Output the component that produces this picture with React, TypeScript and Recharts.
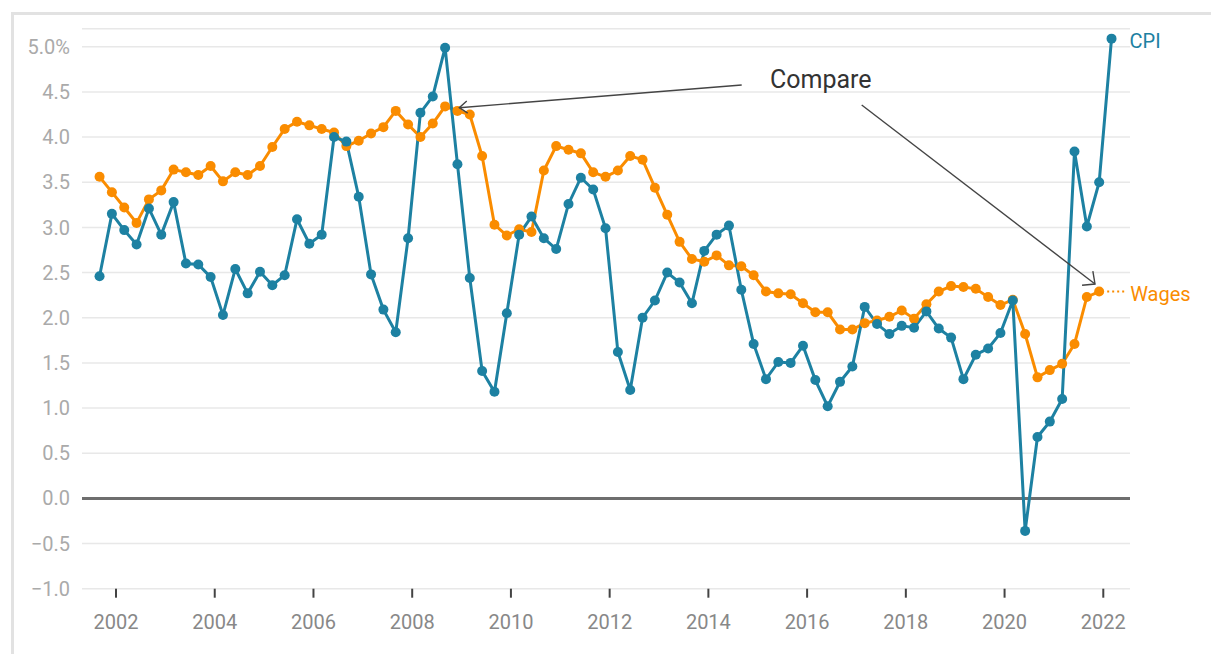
import React from "react";
import { LineChart, Line, XAxis, YAxis, CartesianGrid, ReferenceLine, LabelList } from "recharts";

// quarterly readings, first one is Sep 2001
const cpi = [
  2.46, 3.15, 2.97, 2.81, 3.21, 2.92, 3.28, 2.6, 2.59, 2.45,
  2.03, 2.54, 2.27, 2.51, 2.36, 2.47, 3.09, 2.82, 2.92, 4.0,
  3.95, 3.34, 2.48, 2.09, 1.84, 2.88, 4.27, 4.45, 4.99, 3.7,
  2.44, 1.41, 1.18, 2.05, 2.92, 3.12, 2.88, 2.76, 3.26, 3.55,
  3.42, 2.99, 1.62, 1.2, 2.0, 2.19, 2.5, 2.39, 2.16, 2.74,
  2.92, 3.02, 2.31, 1.71, 1.32, 1.51, 1.5, 1.69, 1.31, 1.02,
  1.29, 1.46, 2.12, 1.93, 1.82, 1.91, 1.89, 2.07, 1.88, 1.78,
  1.32, 1.59, 1.66, 1.83, 2.19, -0.36, 0.68, 0.85, 1.1, 3.84,
  3.01, 3.5, 5.09,
];

const wages = [
  3.56, 3.39, 3.22, 3.05, 3.31, 3.41, 3.64, 3.61, 3.58, 3.68,
  3.51, 3.61, 3.58, 3.68, 3.89, 4.09, 4.17, 4.13, 4.09, 4.05,
  3.9, 3.96, 4.04, 4.11, 4.29, 4.14, 4.0, 4.15, 4.34, 4.29,
  4.25, 3.79, 3.03, 2.91, 2.98, 2.95, 3.63, 3.9, 3.86, 3.82,
  3.61, 3.56, 3.63, 3.79, 3.75, 3.44, 3.14, 2.84, 2.65, 2.62,
  2.69, 2.58, 2.57, 2.47, 2.29, 2.27, 2.26, 2.16, 2.06, 2.06,
  1.87, 1.87, 1.94, 1.97, 2.01, 2.08, 1.99, 2.15, 2.29, 2.35,
  2.34, 2.32, 2.23, 2.14, 2.2, 1.82, 1.34, 1.42, 1.49, 1.71,
  2.23, 2.29,
];

const firstYear = 2001;
const firstMonth = 9;
const yearTicks = [2002, 2004, 2006, 2008, 2010, 2012, 2014, 2016, 2018, 2020, 2022];
const yTicks = [-1, -0.5, 0, 0.5, 1, 1.5, 2, 2.5, 3, 3.5, 4, 4.5, 5];

const BLUE = "#1d81a2";
const ORANGE = "#fa8c00";
const FONT = "Roboto, sans-serif";

const data = cpi.map((v, i) => ({
  t: firstYear + (firstMonth - 1) / 12 + i * 0.25,
  cpi: v,
  wages: i < wages.length ? wages[i] : null,
}));

const fmtY = (v: number) => {
  const s = Math.abs(v).toFixed(1);
  if (v === 5) return s + "%";
  return v < 0 ? "\u2212" + s : s;
};

function arrowHead(x1: number, y1: number, x2: number, y2: number, len: number, spread: number) {
  const a = Math.atan2(y1 - y2, x1 - x2);
  const p1 = [x2 + len * Math.cos(a + spread), y2 + len * Math.sin(a + spread)];
  const p2 = [x2 + len * Math.cos(a - spread), y2 + len * Math.sin(a - spread)];
  return `M${p1[0]},${p1[1]} L${x2},${y2} L${p2[0]},${p2[1]}`;
}

function Annotations() {
  const a1 = [741.7, 85, 459.3, 107.7];
  const a2 = [861.7, 105, 1095, 284];
  return (
    <svg width={1211} height={654} style={{ position: "absolute", left: 0, top: 0, pointerEvents: "none" }}>
      <text x={770} y={88} fontFamily={FONT} fontSize={25} fill="#333">Compare</text>
      <line x1={a1[0]} y1={a1[1]} x2={a1[2]} y2={a1[3]} stroke="#444" strokeWidth={1.4} />
      <path d={arrowHead(a1[0], a1[1], a1[2], a1[3], 10, 0.65)} fill="none" stroke="#444" strokeWidth={1.4} />
      <line x1={a2[0]} y1={a2[1]} x2={a2[2]} y2={a2[3]} stroke="#444" strokeWidth={1.4} />
      <path d={arrowHead(a2[0], a2[1], a2[2], a2[3], 13, 0.75)} fill="none" stroke="#444" strokeWidth={1.4} />
    </svg>
  );
}

export default function App() {
  return (
    <div style={{ position: "absolute", left: 0, top: 0, width: 1211, height: 654, overflow: "hidden", background: "#fff" }}>
      <div
        style={{
          position: "absolute",
          left: 11,
          top: 12,
          width: 1300,
          height: 700,
          borderTop: "3px solid #e2e2e2",
          borderLeft: "3px solid #e2e2e2",
        }}
      />
      <div style={{ position: "absolute", left: 0, top: 0 }}>
        <LineChart
          width={1211}
          height={654}
          data={data}
          margin={{ top: 28.7, right: 81, left: 12, bottom: 25.3 }}
        >
          <CartesianGrid vertical={false} stroke="#e8e8e8" strokeWidth={1.5} />
          <XAxis
            dataKey="t"
            type="number"
            domain={[2001.311, 2022.541]}
            ticks={yearTicks}
            height={40}
            axisLine={false}
            tickSize={9}
            tickMargin={17}
            tickLine={{ stroke: "#444", strokeWidth: 2 }}
            tick={{ fill: "#888", fontSize: 20, fontFamily: FONT }}
          />
          <YAxis
            type="number"
            domain={[-1, 5.2]}
            ticks={yTicks}
            width={70}
            axisLine={false}
            tickLine={false}
            tickSize={6}
            tickMargin={6}
            tickFormatter={fmtY}
            tick={{ fill: "#aaa", fontSize: 20, fontFamily: FONT }}
          />
          <ReferenceLine y={0} stroke="#6e6e6e" strokeWidth={3} />
          <Line
            dataKey="wages"
            type="linear"
            stroke={ORANGE}
            strokeWidth={3}
            dot={{ r: 5, fill: ORANGE, stroke: ORANGE, strokeWidth: 0 }}
            activeDot={false}
            isAnimationActive={false}
          >
            <LabelList
              dataKey="wages"
              content={(p: any) =>
                p.index === wages.length - 1 ? (
                  <g>
                    <line x1={p.x + 8} y1={p.y} x2={p.x + 25} y2={p.y} stroke={ORANGE} strokeWidth={2} strokeDasharray="2 3" />
                    <text x={p.x + 31} y={p.y + 4} dominantBaseline="middle" fontFamily={FONT} fontSize={20} fill={ORANGE}>
                      Wages
                    </text>
                  </g>
                ) : null
              }
            />
          </Line>
          <Line
            dataKey="cpi"
            type="linear"
            stroke={BLUE}
            strokeWidth={3}
            dot={{ r: 5, fill: BLUE, stroke: BLUE, strokeWidth: 0 }}
            activeDot={false}
            isAnimationActive={false}
          >
            <LabelList
              dataKey="cpi"
              content={(p: any) =>
                p.index === cpi.length - 1 ? (
                  <text x={p.x + 18} y={p.y + 4} dominantBaseline="middle" fontFamily={FONT} fontSize={20} fill={BLUE}>
                    CPI
                  </text>
                ) : null
              }
            />
          </Line>
        </LineChart>
      </div>
      <Annotations />
    </div>
  );
}
